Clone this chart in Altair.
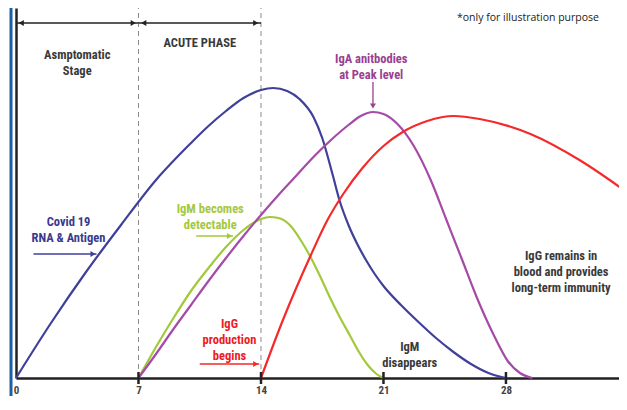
import altair as alt
import pandas as pd

# ---- curve data (day, relative level) ----
blue_day = [0, 2, 4, 6, 8, 10, 11, 12, 13, 14, 14.7, 15.5, 16.2, 17.0, 17.5, 18.1, 18.5, 19.0, 19.5, 20.0, 20.5, 21.0, 22.0, 23.0, 24.0, 25.0, 26.0, 27.0, 28.0]
blue_lvl = [0, 55, 106, 153, 198, 235, 252, 267, 280, 288, 290, 287, 279, 261, 240, 203, 177, 153, 134, 118, 104, 92, 73, 56, 40, 26, 14, 5, 0]

green_day = [7, 8, 9, 10, 11, 12, 13, 14, 14.5, 15, 15.7, 16.3, 16.8, 17.4, 17.9, 18.5, 19.1, 19.6, 20.1, 20.6, 21.0]
green_lvl = [0, 31, 60, 87, 110, 131, 148, 159, 161, 160, 152, 137, 122, 101, 82, 61, 42, 26, 13, 4, 0]

purple_day = [7, 8, 9, 10, 11, 12, 13, 14, 15, 16, 17, 18, 19, 19.7, 20.4, 21.0, 21.8, 22.7, 23.7, 24.6, 25.5, 26.3, 27.3, 28.1, 28.8, 29.5]
purple_lvl = [0, 24, 49, 73, 97, 120, 142, 163, 183, 202, 221, 238, 253, 262, 266, 264, 254, 233, 198, 158, 118, 82, 43, 17, 5, 0]

red_day = [14, 15.3, 16.8, 17.8, 18.7, 19.8, 21.0, 22.1, 23.5, 25.0, 26.5, 29.4, 32.2, 34.9]
red_lvl = [0, 60, 121, 158, 184, 210, 232, 246, 257, 262, 259, 244, 218, 186]

series_names = ["Covid 19 RNA & Antigen", "IgM", "IgA", "IgG"]
series_colors = ["#40409b", "#a2c93a", "#a54aa8", "#f42a2a"]

tick_days = [7, 14, 21, 28, 35]
phase_days = [7, 14]

# annotations (position = first line)
ann_text = ["Asmptomatic\nStage", "ACUTE PHASE", "IgA anitbodies\nat Peak level",
            "Covid 19\nRNA & Antigen", "IgM becomes\ndetectable", "IgG\nproduction\nbegins",
            "IgM\ndisappears", "IgG remains in\nblood and provides\nlong-term immunity"]
ann_day = [3.5, 10.5, 20.3, 3.0, 11.1, 12.2, 22.5, 31.15]
ann_lvl = [323, 335, 319, 156, 169, 54, 31, 122]
ann_color = ["#3a3a3a", "#3a3a3a", "#9a3f92", "#3a3a8c", "#a4c83c", "#ee1c25", "#3a3a3a", "#3a3a3a"]

# arrows (horizontal): start day, end day, level, color
arr_x1 = [0.0, 7.0, 1.0, 10.3, 10.5]
arr_x2 = [7.0, 14.0, 4.6, 12.4, 13.9]
arr_lvl = [355, 355, 124, 142, 14]
arr_col = ["#222222", "#222222", "#40409b", "#a2c93a", "#f42a2a"]

# ---- tables ----
rows = []
for name, col, ds, ls in zip(series_names, series_colors,
                             [blue_day, green_day, purple_day, red_day],
                             [blue_lvl, green_lvl, purple_lvl, red_lvl]):
    for d, l in zip(ds, ls):
        rows.append({"series": name, "color": col, "day": d, "level": l})
curves = pd.DataFrame(rows)

ann = pd.DataFrame({"day": ann_day, "level": ann_lvl, "text": ann_text, "color": ann_color})
arrows = pd.DataFrame({"day": arr_x1, "day2": arr_x2, "level": arr_lvl, "color": arr_col})

heads = pd.DataFrame({
    "day": [0.3, 6.7, 7.3, 13.7, 4.4, 12.2, 13.7, 20.4],
    "level": [355, 355, 355, 355, 124, 142, 14, 272],
    "shape": ["triangle-left", "triangle-right", "triangle-left", "triangle-right",
              "triangle-right", "triangle-right", "triangle-right", "triangle-down"],
    "color": ["#222222"] * 4 + ["#40409b", "#a2c93a", "#f42a2a", "#9a3f92"],
})
iga_arrow = pd.DataFrame({"day": [20.4], "level": [296], "level2": [273]})

ticks = pd.DataFrame({"day": tick_days, "level": [-6] * len(tick_days), "level2": [6] * len(tick_days)})
phases = pd.DataFrame({"day": phase_days, "level": [0, 0], "level2": [370, 370]})
note = pd.DataFrame({"day": [25.2], "level": [360], "text": ["*only for illustration purpose"]})

FONT = "Liberation Sans Narrow, Roboto Condensed, DejaVu Sans Condensed, Arial Narrow, sans-serif"

xs = alt.Scale(domain=[0, 34.46], nice=False, zero=False)
ys = alt.Scale(domain=[0, 370], nice=False, zero=False)
xaxis = alt.Axis(values=[0, 7, 14, 21, 28, 35], title=None, grid=False, ticks=False, tickSize=0,
                 labelFlush=False, labelPadding=6, labelFont=FONT, labelFontWeight="bold",
                 labelFontSize=11, labelColor="#444444", domainColor="#222222", domainWidth=2.5)
yaxis = alt.Axis(title=None, grid=False, ticks=False, labels=False, domainColor="#222222", domainWidth=2.5)


def X(f="day"):
    return alt.X(f + ":Q", scale=xs, axis=xaxis)


def Y(f="level"):
    return alt.Y(f + ":Q", scale=ys, axis=yaxis)


C = alt.Color("color:N", scale=None)

phase_layer = alt.Chart(phases).mark_rule(strokeDash=[5, 4], color="#8a8a8a", strokeWidth=1).encode(
    x=X(), y=Y(), y2="level2:Q")

lines = alt.Chart(curves).mark_line(interpolate="monotone", strokeWidth=2.2).encode(
    x=X(), y=Y(), color=C, detail="series:N")

tick_layer = alt.Chart(ticks).mark_rule(color="#222222", strokeWidth=2.5).encode(
    x=X(), y=Y(), y2="level2:Q")

arrow_layer = alt.Chart(arrows).mark_rule(strokeWidth=1.3).encode(
    x=X(), x2="day2:Q", y=Y(), color=C)

iga_layer = alt.Chart(iga_arrow).mark_rule(strokeWidth=1.3, color="#9a3f92").encode(
    x=X(), y=Y(), y2="level2:Q")

head_layer = alt.Chart(heads).mark_point(filled=True, size=35, opacity=1).encode(
    x=X(), y=Y(), color=C, shape=alt.Shape("shape:N", scale=None))

text_layer = alt.Chart(ann).mark_text(font=FONT, fontWeight="bold", fontSize=12.5, lineBreak="\n",
                                      lineHeight=16, align="center", baseline="middle").encode(
    x=X(), y=Y(), text="text:N", color=C)

note_layer = alt.Chart(note).mark_text(font="Open Sans", fontSize=10.5, align="left",
                                       baseline="middle", color="#222222").encode(
    x=X(), y=Y(), text="text:N")

frame = alt.Chart(pd.DataFrame({"a": [0]})).mark_rule(color="#1d5fa3", strokeWidth=3).encode(
    x=alt.value(-5), y=alt.value(-10), y2=alt.value(400))

chart = alt.layer(frame, phase_layer, lines, tick_layer, arrow_layer, iga_layer, head_layer,
                  text_layer, note_layer).properties(
    width=603, height=370,
    autosize=alt.AutoSizeParams(type="none"),
    padding={"left": 8, "top": 0, "right": 0, "bottom": 18},
    background="white",
).configure_view(strokeWidth=0)

chart.save("out.html", embed_options={"renderer": "svg", "actions": False})
